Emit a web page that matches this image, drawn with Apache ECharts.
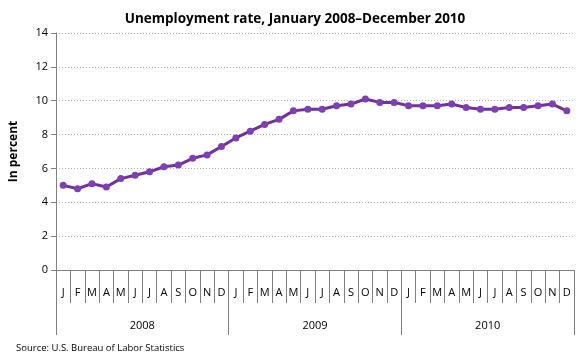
<!DOCTYPE html>
<html><head><meta charset="utf-8">
<script src="https://cdn.jsdelivr.net/npm/echarts@6/dist/echarts.min.js"></script>
<style>html,body{margin:0;padding:0;background:#fff}#c{width:580px;height:360px}</style>
</head><body><div id="c"></div>
<script>
const months = ['J','F','M','A','M','J','J','A','S','O','N','D','J','F','M','A','M','J','J','A','S','O','N','D','J','F','M','A','M','J','J','A','S','O','N','D'];
const years = ['2008','2009','2010'];
const rate = [5.0,4.8,5.1,4.9,5.4,5.6,5.8,6.1,6.2,6.6,6.8,7.3,
              7.8,8.2,8.6,8.9,9.4,9.5,9.5,9.7,9.8,10.1,9.9,9.9,
              9.7,9.7,9.7,9.8,9.6,9.5,9.5,9.6,9.6,9.7,9.8,9.4];
const yTicks = [0,2,4,6,8,10,12,14];
const font = 'Open Sans';
const chart = echarts.init(document.getElementById('c'));
chart.setOption({
  animation:false,
  textStyle:{fontFamily:font},
  title:{text:'Unemployment rate, January 2008\u2013December 2010',left:290,top:7,textAlign:'center',
    textStyle:{fontFamily:font,fontSize:13.5,fontWeight:'bold',color:'#000'}},
  graphic:[{type:'text',left:16,top:343,style:{text:'Source: U.S. Bureau of Labor Statistics',font:'9.5px "Open Sans"',fill:'#000'}}],
  grid:{left:55,right:6,top:33,bottom:90},
  xAxis:[{type:'category',data:months,boundaryGap:true,
      axisLine:{show:true,lineStyle:{color:'#808080',width:1}},
      axisTick:{show:true,interval:0,length:33,lineStyle:{color:'#808080'}},
      axisLabel:{interval:0,margin:17,fontSize:11,color:'#000'}},
    {type:'category',data:years,position:'bottom',boundaryGap:true,
      axisLine:{show:false},
      axisTick:{show:true,interval:0,length:65,lineStyle:{color:'#808080'}},
      axisLabel:{interval:0,margin:50,fontSize:11,color:'#000'}}],
  yAxis:{type:'value',min:0,max:14,interval:2,name:'In percent',nameLocation:'middle',nameGap:36,
    nameTextStyle:{fontFamily:font,fontSize:12,fontWeight:'bold',color:'#000'},
    axisLine:{show:true,lineStyle:{color:'#808080'}},
    axisTick:{show:true,length:5,lineStyle:{color:'#808080'}},
    axisLabel:{fontSize:11,color:'#000',margin:8,formatter:v=>yTicks.includes(v)?String(v):''},
    splitLine:{lineStyle:{color:'#b0b0b0',type:[1,2]}}},
  series:[{type:'line',data:rate,xAxisIndex:0,symbol:'circle',symbolSize:7,
    lineStyle:{color:'#7030A0',width:3},itemStyle:{color:'#7E3FB0'}}]
});
</script></body></html>
